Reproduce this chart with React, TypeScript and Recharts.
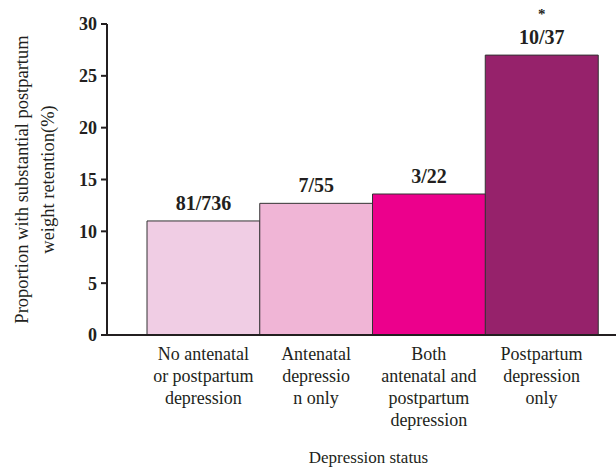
import { BarChart, Bar, XAxis, YAxis, Cell, LabelList } from 'recharts';

const categories = [
  'No antenatal\nor postpartum\ndepression',
  'Antenatal\ndepressio\nn only',
  'Both\nantenatal and\npostpartum\ndepression',
  'Postpartum\ndepression\nonly',
];
const proportions = [11.0, 12.7, 13.6, 27.0];
const counts = ['81/736', '7/55', '3/22', '10/37'];
const marks = ['', '', '', '*'];
const yTicks = [0, 5, 10, 15, 20, 25, 30];

const COLORS = ['#f0cde4', '#f0b5d6', '#ec008c', '#96226b'];
const FONT = "'Liberation Serif', Tinos, 'Times New Roman', 'DejaVu Serif', serif";
const INK = '#231f20';

const data = categories.map((name, i) => ({
  name,
  value: proportions[i],
  count: counts[i],
  mark: marks[i],
}));

const XTick = ({ x, y, payload }: any) => {
  const lines = String(payload.value).split('\n');
  return (
    <text x={x} y={y + 23} textAnchor="middle" style={{ fontFamily: FONT, fontSize: 18 }} fill={INK}>
      {lines.map((l, i) => (
        <tspan key={i} x={x} dy={i === 0 ? 0 : 22}>
          {l}
        </tspan>
      ))}
    </text>
  );
};

const BarLabel = ({ x, y, width, index }: any) => {
  const cx = x + width / 2;
  const d = data[index];
  return (
    <g>
      <text x={cx} y={y - 11} textAnchor="middle" style={{ fontFamily: FONT, fontSize: 20, fontWeight: 'bold' }} fill={INK}>
        {d.count}
      </text>
      {d.mark ? (
        <text x={cx} y={y - 36} textAnchor="middle" style={{ fontFamily: FONT, fontSize: 15, fontWeight: 'bold' }} fill={INK}>
          {d.mark}
        </text>
      ) : null}
    </g>
  );
};

const YLabel = ({ viewBox }: any) => {
  const cy = viewBox.y + viewBox.height / 2;
  return (
    <g style={{ fontFamily: FONT, fontSize: 18.5 }} fill={INK}>
      <text x={22} y={cy} dy="0.35em" textAnchor="middle" transform={`rotate(-90, 22, ${cy})`}>
        Proportion with substantial postpartum
      </text>
      <text x={48} y={cy} dy="0.35em" textAnchor="middle" transform={`rotate(-90, 48, ${cy})`}>
        weight retention(%)
      </text>
    </g>
  );
};

const XLabel = ({ viewBox }: any) => (
  <text
    x={viewBox.x + viewBox.width / 2 + 7}
    y={viewBox.y + 128}
    textAnchor="middle"
    style={{ fontFamily: FONT, fontSize: 17 }}
    fill={INK}
  >
    Depression status
  </text>
);

export default function App() {
  return (
    <div style={{ position: 'absolute', left: 0, top: 0, background: '#fff', fontFamily: FONT }}>
      <BarChart
        width={616}
        height={467}
        data={data}
        margin={{ top: 24, right: 0, bottom: 0, left: 0 }}
        barCategoryGap={0}
      >
        <XAxis
          dataKey="name"
          height={132}
          padding={{ left: 40, right: 18 }}
          axisLine={{ stroke: INK, strokeWidth: 2 }}
          tickLine={false}
          tickSize={0}
          tick={<XTick />}
          interval={0}
          label={<XLabel />}
        />
        <YAxis
          width={107}
          domain={[0, 30]}
          ticks={yTicks}
          axisLine={{ stroke: INK, strokeWidth: 2 }}
          tickLine={{ stroke: INK, strokeWidth: 2 }}
          tickSize={6}
          tickMargin={4}
          tick={{ style: { fontFamily: FONT, fontSize: 18, fontWeight: 'bold' }, fill: INK }}
          label={<YLabel />}
        />
        <Bar dataKey="value" stroke="#333" strokeWidth={1} isAnimationActive={false}>
          {data.map((_, i) => (
            <Cell key={`cell-${i}`} fill={COLORS[i]} />
          ))}
          <LabelList dataKey="count" content={<BarLabel />} />
        </Bar>
      </BarChart>
    </div>
  );
}
